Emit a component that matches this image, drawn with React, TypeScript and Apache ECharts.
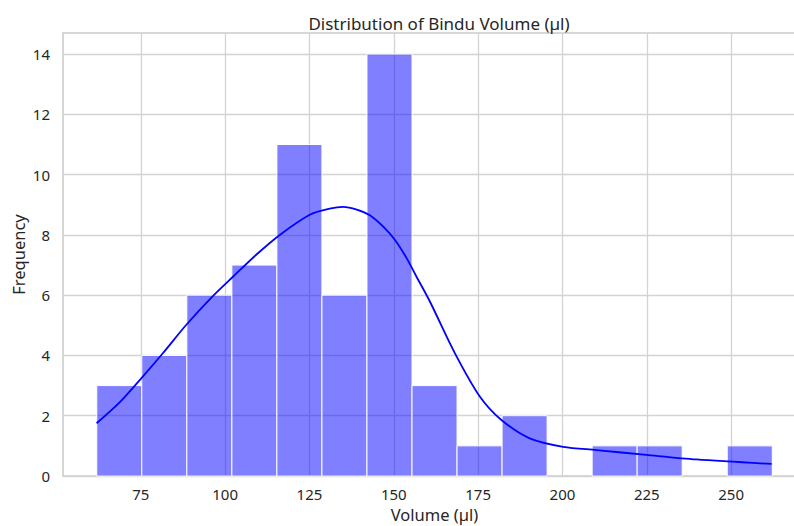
import React, { useEffect, useRef } from "react";
import * as echarts from "echarts";

const binEdges = [61.95, 75.3, 88.65, 102.0, 115.35, 128.7, 142.05, 155.4, 168.75, 182.1, 195.45, 208.8, 222.15, 235.5, 248.85, 262.2];
const counts = [3, 4, 6, 7, 11, 6, 14, 3, 1, 2, 0, 1, 1, 0, 1];
const kdeX = [61.9, 68.8, 75.2, 81.6, 88.5, 96.0, 102.4, 109.3, 116.2, 125.1, 131.0, 135.0, 139.0, 142.9, 146.8, 150.3, 153.8, 156.7, 160.7, 168.1, 175.5, 181.9, 190.3, 200.2, 210.1, 224.9, 239.7, 262.0];
const kdeY = [1.75, 2.45, 3.25, 4.08, 5.02, 5.93, 6.62, 7.35, 8.0, 8.67, 8.87, 8.93, 8.84, 8.65, 8.28, 7.84, 7.23, 6.62, 5.79, 4.08, 2.64, 1.86, 1.25, 0.97, 0.86, 0.7, 0.55, 0.4];
const xTicks = [75, 100, 125, 150, 175, 200, 225, 250];
const yTicks = [0, 2, 4, 6, 8, 10, 12, 14];

const FONT = "Noto Sans";
const TXT = "#262626";

export default function App() {
  const ref = useRef<HTMLDivElement>(null);
  useEffect(() => {
    if (!ref.current) return;
    const chart = echarts.init(ref.current, undefined, { renderer: "svg" });
    const barData = counts.map((c, i) => [binEdges[i], binEdges[i + 1], c]);
    const kdeData = kdeX.map((x, i) => [x, kdeY[i]]);
    chart.setOption({
      animation: false,
      backgroundColor: "#ffffff",
      textStyle: { fontFamily: FONT },
      title: {
        text: "Distribution of Bindu Volume (µl)",
        left: 434,
        top: 10,
        textAlign: "center",
        textStyle: { fontFamily: FONT, fontSize: 17, fontWeight: "normal", color: TXT },
      },
      grid: {
        left: 63,
        right: -12,
        top: 33,
        bottom: 50,
        show: true,
        borderColor: "#cccccc",
        borderWidth: 1.6,
        backgroundColor: "transparent",
        containLabel: false,
        outerBoundsMode: "none",
      },
      xAxis: {
        type: "value",
        min: 51.94,
        max: 272.2,
        name: "Volume (µl)",
        nameLocation: "middle",
        nameGap: 28,
        nameTextStyle: { fontFamily: FONT, fontSize: 16.5, color: TXT },
        axisLine: { show: false },
        axisTick: { show: false, customValues: xTicks },
        axisLabel: { customValues: xTicks, fontFamily: FONT, fontSize: 15, color: TXT, margin: 10 },
        splitLine: { show: true, lineStyle: { color: "#d3d3d3", width: 1.3 } },
      },
      yAxis: {
        type: "value",
        min: 0,
        max: 14.7,
        name: "Frequency",
        nameLocation: "middle",
        nameGap: 36,
        nameMoveOverlap: false,
        nameRotate: 90,
        nameTextStyle: { fontFamily: FONT, fontSize: 16.5, color: TXT },
        axisLine: { show: false },
        axisTick: { show: false, customValues: yTicks },
        axisLabel: { customValues: yTicks, fontFamily: FONT, fontSize: 15, color: TXT, margin: 13 },
        splitLine: { show: true, lineStyle: { color: "#d3d3d3", width: 1.3 } },
      },
      series: [
        {
          type: "custom",
          data: barData,
          encode: { x: [0, 1], y: 2 },
          renderItem: (params: any, api: any) => {
            const x0 = api.value(0);
            const x1 = api.value(1);
            const c = api.value(2);
            if (!c) return null;
            const p0 = api.coord([x0, c]);
            const p1 = api.coord([x1, 0]);
            return {
              type: "rect",
              shape: { x: p0[0], y: p0[1], width: p1[0] - p0[0], height: p1[1] - p0[1] },
              style: { fill: "rgba(0,0,255,0.5)", stroke: "#ffffff", lineWidth: 1 },
            };
          },
          z: 2,
        },
        {
          type: "line",
          data: kdeData,
          smooth: 0.3,
          showSymbol: false,
          lineStyle: { color: "#0000ff", width: 1.8 },
          itemStyle: { color: "#0000ff" },
          z: 3,
        },
      ],
    });
    return () => chart.dispose();
  }, []);
  return (
    <div
      ref={ref}
      style={{ position: "fixed", left: 0, top: 0, width: 794, height: 526, background: "#fff" }}
    />
  );
}
